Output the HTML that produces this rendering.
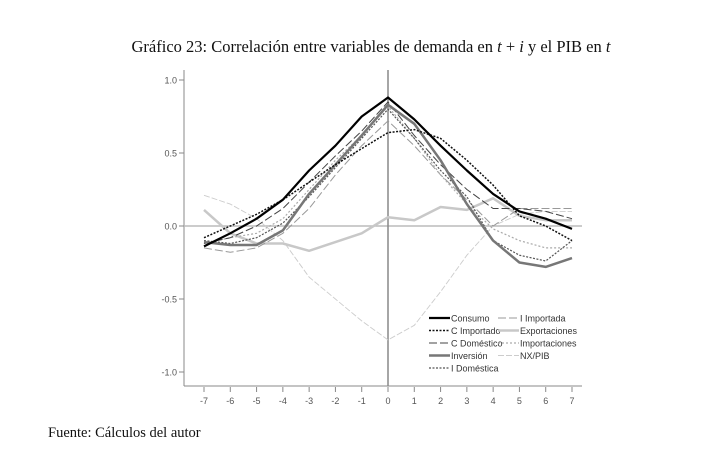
<!DOCTYPE html>
<html><head><meta charset="utf-8"><style>
body{margin:0;background:#fff;width:714px;height:457px;overflow:hidden}
svg{display:block}
</style></head><body>
<svg width="714" height="457" xmlns="http://www.w3.org/2000/svg">
<text x="371" y="52" text-anchor="middle" font-family="Liberation Serif, serif" font-size="16.5" fill="#111">Gráfico 23: Correlación entre variables de demanda en <tspan font-style="italic">t</tspan> + <tspan font-style="italic">i</tspan> y el PIB en <tspan font-style="italic">t</tspan></text>
<text x="48" y="437" font-family="Liberation Serif, serif" font-size="14.5" fill="#111">Fuente: Cálculos del autor</text>
<g id="axes"></g>
<g id="series"></g>
<g id="legend"></g>
</svg>
<script>
const lags=[-7,-6,-5,-4,-3,-2,-1,0,1,2,3,4,5,6,7];
const yTicks=[1.0,0.5,0.0,-0.5,-1.0];
const consumo=[-0.14,-0.05,0.05,0.18,0.38,0.55,0.75,0.88,0.73,0.55,0.38,0.22,0.10,0.05,-0.02];
const cImportado=[-0.08,0.0,0.08,0.18,0.30,0.42,0.53,0.64,0.66,0.60,0.45,0.28,0.07,0.0,-0.10];
const cDomestico=[-0.12,-0.08,0.0,0.12,0.30,0.48,0.65,0.85,0.62,0.42,0.25,0.12,0.12,0.10,0.05];
const inversion=[-0.11,-0.13,-0.13,-0.03,0.22,0.42,0.62,0.83,0.70,0.45,0.15,-0.10,-0.25,-0.28,-0.22];
const iDomestica=[-0.10,-0.12,-0.08,0.02,0.20,0.40,0.60,0.80,0.60,0.38,0.20,-0.10,-0.20,-0.24,-0.10];
const iImportada=[-0.15,-0.18,-0.15,-0.05,0.12,0.35,0.55,0.72,0.55,0.35,0.18,0.0,0.12,0.12,0.12];
const exportaciones=[0.11,-0.05,-0.12,-0.12,-0.17,-0.11,-0.05,0.06,0.04,0.13,0.11,0.19,0.07,0.04,0.04];
const importaciones=[-0.12,-0.08,-0.05,0.05,0.25,0.45,0.62,0.82,0.60,0.35,0.15,-0.02,-0.10,-0.15,-0.15];
const nxPib=[0.21,0.15,0.05,-0.10,-0.35,-0.50,-0.65,-0.78,-0.68,-0.45,-0.20,0.0,0.08,0.10,0.10];

const NS='http://www.w3.org/2000/svg';
const X=v=>204+(v+7)*(368/14);
const Y=v=>226-v*146;
function mk(tag,attrs,parent){const e=document.createElementNS(NS,tag);for(const k in attrs)e.setAttribute(k,attrs[k]);parent.appendChild(e);return e;}
const ax=document.getElementById('axes');
let e=mk('line',{x1:184,y1:70,x2:184,y2:386,stroke:'#888','stroke-width':1},ax);


e=mk('line',{x1:184,y1:386,x2:582,y2:386,stroke:'#888','stroke-width':1},ax);


yTicks.forEach(t=>{
  mk('line',{x1:179,y1:Y(t),x2:184,y2:Y(t),stroke:'#888'},ax);
  const tx=mk('text',{x:177,y:Y(t)+3.5,'text-anchor':'end','font-family':'Liberation Sans, sans-serif','font-size':9,fill:'#555'},ax);
  tx.textContent=t.toFixed(1);
  
  
});
lags.forEach(l=>{
  mk('line',{x1:X(l),y1:387,x2:X(l),y2:392,stroke:'#888'},ax);
  const tx=mk('text',{x:X(l),y:404,'text-anchor':'middle','font-family':'Liberation Sans, sans-serif','font-size':9,fill:'#555'},ax);
  tx.textContent=l;
  
  
});
e=mk('line',{x1:184,y1:Y(0),x2:582,y2:Y(0),stroke:'#bbb','stroke-width':1.5},ax);


e=mk('line',{x1:X(0),y1:70,x2:X(0),y2:386,stroke:'#888','stroke-width':1.5},ax);



const series=[
 {n:'NX/PIB',d:nxPib,c:'#ccc',w:0.9,da:'6 2',id:'nx-pib'},
 {n:'Exportaciones',d:exportaciones,c:'#c8c8c8',w:2.5,da:'',id:'exportaciones'},
 {n:'I Importada',d:iImportada,c:'#999',w:1,da:'8 3',id:'i-importada'},
 {n:'Importaciones',d:importaciones,c:'#aaa',w:1.2,da:'2 2',id:'importaciones'},
 {n:'I Doméstica',d:iDomestica,c:'#555',w:1.2,da:'2 1.5',id:'i-domestica'},
 {n:'C Doméstico',d:cDomestico,c:'#444',w:1,da:'8 3',id:'c-domestico'},
 {n:'Inversión',d:inversion,c:'#777',w:2.5,da:'',id:'inversion'},
 {n:'C Importado',d:cImportado,c:'#111',w:1.5,da:'2 1.5',id:'c-importado'},
 {n:'Consumo',d:consumo,c:'#000',w:2.2,da:'',id:'consumo'}
];
const sg=document.getElementById('series');
series.forEach(s=>{
  const pts=s.d.map((v,i)=>X(lags[i]).toFixed(1)+','+Y(v).toFixed(1)).join(' ');
  const p=mk('polyline',{points:pts,fill:'none',stroke:s.c,'stroke-width':s.w,'stroke-dasharray':s.da,'stroke-linejoin':'round'},sg);
  
  
});
const lg=document.getElementById('legend');
const legendOrder=[
 ['consumo',0,0],['c-importado',0,1],['c-domestico',0,2],['inversion',0,3],['i-domestica',0,4],
 ['i-importada',1,0],['exportaciones',1,1],['importaciones',1,2],['nx-pib',1,3]];
legendOrder.forEach(([id,col,row])=>{
  const s=series.find(q=>q.id===id);
  const x0=col?498:429, y0=318+row*12.5;
  mk('line',{x1:x0,y1:y0,x2:x0+21,y2:y0,stroke:s.c,'stroke-width':s.w,'stroke-dasharray':s.da},lg);
  const t=mk('text',{x:x0+22,y:y0+3.5,'font-family':'Liberation Sans, sans-serif','font-size':9,fill:'#333'},lg);
  t.textContent=s.n;
  
  
});
</script>
</body></html>
